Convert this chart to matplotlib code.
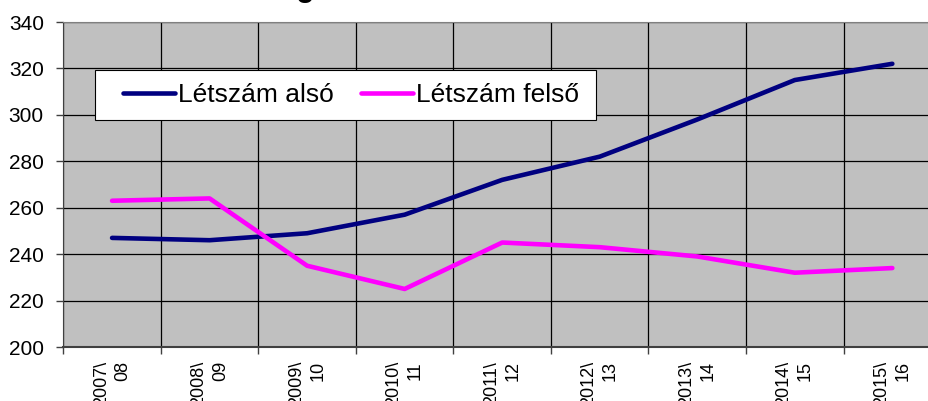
import matplotlib.pyplot as plt
from matplotlib.patches import Rectangle
from matplotlib.ticker import FixedLocator, NullFormatter

plt.rcParams['font.family'] = ['Liberation Sans', 'DejaVu Sans']

# school years and head counts
years = ['2007\\\n08', '2008\\\n09', '2009\\\n10', '2010\\\n11', '2011\\\n12',
         '2012\\\n13', '2013\\\n14', '2014\\\n15', '2015\\\n16']
also = [247, 246, 249, 257, 272, 282, 298, 315, 322]
felso = [263, 264, 235, 225, 245, 243, 239, 232, 234]

W, H = 929, 401
fig = plt.figure(figsize=(W / 100, H / 100), dpi=100)
# plot area runs past the right edge, as in the cropped original
ax = fig.add_axes([63.3 / W, 1 - 347 / H, 877.8 / W, 325 / H])
ax.set_facecolor('#C0C0C0')

x = list(range(len(years)))
ax.plot(x, also, color='#000080', lw=3.3, solid_capstyle='round', label='Létszám alsó', zorder=3)
ax.plot(x, felso, color='#FF00FF', lw=3.3, solid_capstyle='round', label='Létszám felső', zorder=3)

ax.set_xlim(-0.5, len(years) - 0.5)
ax.set_ylim(200, 340)
ax.set_yticks(range(200, 341, 20))

# category boundaries carry the ticks and vertical grid; labels sit at the centres
bounds = [i - 0.5 for i in range(len(years) + 1)]
ax.xaxis.set_major_locator(FixedLocator(bounds))
ax.xaxis.set_major_formatter(NullFormatter())
ax.xaxis.set_minor_locator(FixedLocator(x))
ax.set_xticklabels(years, minor=True, rotation=90, fontsize=13,
                   va='top', ha='center', multialignment='right', linespacing=1.35)
ax.tick_params(axis='x', which='minor', length=0, pad=10)
ax.tick_params(axis='x', which='major', length=5, width=1, color='#404040')
ax.tick_params(axis='y', length=5, width=1, color='#404040', labelsize=15, pad=9)

ax.grid(True, which='major', color='black', lw=0.9)
ax.set_axisbelow(True)
for s in ['top', 'right']:
    ax.spines[s].set_color('#808080')
ax.spines['left'].set_color('#404040')
ax.spines['bottom'].set_color('#404040')
ax.spines['bottom'].set_linewidth(1.5)

# legend box drawn by hand so its padding matches the original
box = Rectangle((95 / W, 1 - 120 / H), 501 / W, 50 / H, transform=fig.transFigure,
                facecolor='white', edgecolor='black', lw=0.8, zorder=4, clip_on=False)
ax.add_patch(box)
leg = ax.legend(loc='center left', bbox_to_anchor=(123 / W, 1 - 95 / H),
                bbox_transform=fig.transFigure, ncol=2, fontsize=19, frameon=False,
                borderaxespad=0, borderpad=0, handlelength=1.97, handletextpad=0.11,
                columnspacing=1.04)
leg.set_zorder(5)

# title is cut off by the top of the image
fig.text(0.0, 1 + 4 / H, 'Tanulói létszám kategóriánként', fontsize=22,
         fontweight='bold', ha='left', va='baseline')

fig.savefig('out.png', dpi=100)
